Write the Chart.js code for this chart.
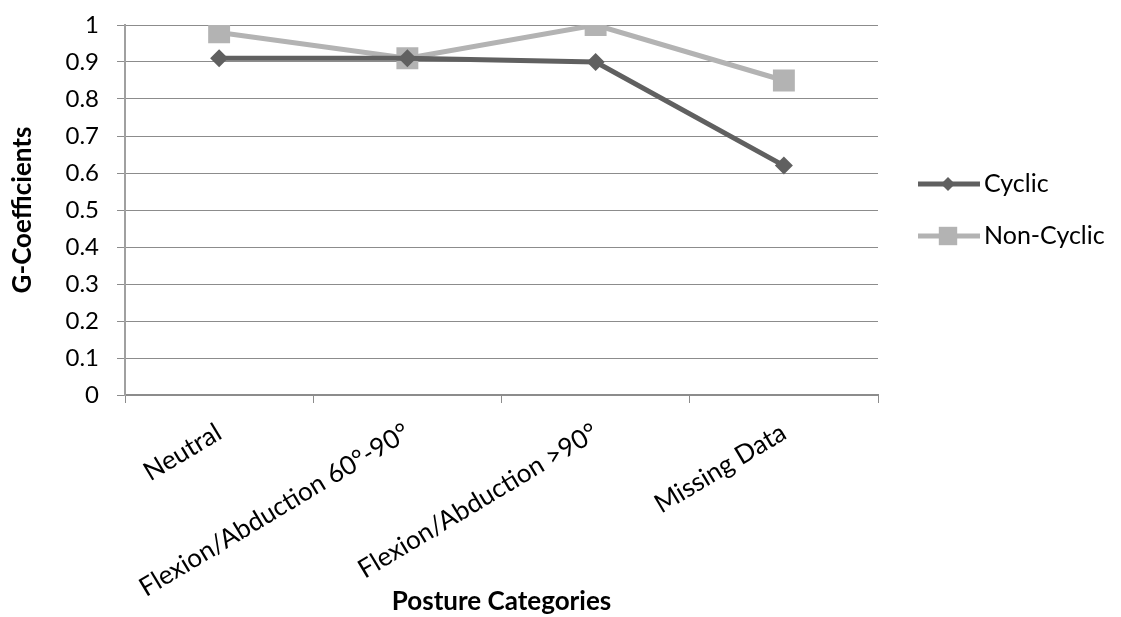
<!DOCTYPE html>
<html>
<head>
<meta charset="utf-8">
<script src="https://cdn.jsdelivr.net/npm/chart.js@4.4.1/dist/chart.umd.min.js"></script>
<style>
  html, body { margin: 0; padding: 0; background: #fff; }
  #wrap { width: 1121px; height: 617px; position: relative; }
</style>
</head>
<body>
<div id="wrap"><canvas id="myChart"></canvas></div>
<script>
const categories = ['Neutral', 'Flexion/Abduction 60°-90°', 'Flexion/Abduction >90°', 'Missing Data'];
const cyclic = [0.91, 0.91, 0.90, 0.62];
const nonCyclic = [0.98, 0.91, 1.0, 0.85];
const seriesNames = ['Cyclic', 'Non-Cyclic'];

const FONT = 'Lato, "Open Sans", sans-serif';

// legend on the right, line + marker like the original
const sideLegend = {
  id: 'sideLegend',
  afterDraw(chart) {
    const ctx = chart.ctx;
    const area = chart.chartArea;
    const x0 = area.right + 40;
    const rows = [184, 236];
    const markR = [7, 13];
    chart.data.datasets.forEach((ds, i) => {
      const y = rows[i];
      const cx = x0 + 30;
      ctx.save();
      ctx.strokeStyle = ds.borderColor;
      ctx.lineWidth = ds.borderWidth;
      ctx.beginPath();
      ctx.moveTo(x0, y);
      ctx.lineTo(x0 + 62, y);
      ctx.stroke();
      ctx.fillStyle = ds.backgroundColor;
      const r = markR[i];
      ctx.beginPath();
      if (ds.pointStyle === 'rect') {
        const s = Math.SQRT1_2 * r;
        ctx.rect(cx - s, y - s, 2 * s, 2 * s);
      } else {
        ctx.moveTo(cx - r, y);
        ctx.lineTo(cx, y - r);
        ctx.lineTo(cx + r, y);
        ctx.lineTo(cx, y + r);
        ctx.closePath();
      }
      ctx.fill();
      ctx.fillStyle = '#000';
      ctx.font = '25px ' + FONT;
      ctx.textBaseline = 'middle';
      ctx.fillText(ds.label, x0 + 66, y);
      ctx.restore();
    });
  }
};

const ctx = document.getElementById('myChart');
new Chart(ctx, {
  type: 'line',
  data: {
    labels: categories,
    datasets: [{
      label: seriesNames[0],
      data: cyclic,
      borderColor: '#606060',
      backgroundColor: '#606060',
      borderWidth: 5,
      pointStyle: 'rectRot',
      pointRadius: 9,
      pointBorderWidth: 0,
      tension: 0
    }, {
      label: seriesNames[1],
      data: nonCyclic,
      borderColor: '#b3b3b3',
      backgroundColor: '#b3b3b3',
      borderWidth: 5,
      pointStyle: 'rect',
      pointRadius: 15.5,
      pointBorderWidth: 0,
      tension: 0
    }]
  },
  options: {
    responsive: true,
    maintainAspectRatio: false,
    animation: false,
    layout: { padding: { left: 0, right: 243, top: 25, bottom: 0 } },
    plugins: {
      legend: { display: false },
      tooltip: { enabled: false }
    },
    scales: {
      x: {
        offset: true,
        afterFit: (s) => { s.height = 222; s.paddingTop = 0; s.paddingLeft = 0; s.paddingRight = 0; },
        grid: {
          offset: true,
          drawOnChartArea: false,
          drawTicks: true,
          tickLength: 8,
          color: '#8c8c8c'
        },
        border: { color: '#8c8c8c', width: 2 },
        ticks: {
          autoSkip: false,
          minRotation: 31,
          maxRotation: 31,
          padding: 14,
          color: '#000',
          font: { family: FONT, size: 26 }
        },
        title: {
          display: true,
          text: 'Posture Categories',
          color: '#000',
          font: { family: FONT, size: 26, weight: 'bold' },
          padding: { top: 0, bottom: 0 }
        }
      },
      y: {
        min: 0,
        max: 1,
        afterFit: (s) => { s.width = 125; s.paddingTop = 0; s.paddingBottom = 0; },
        grid: {
          color: '#8c8c8c',
          tickLength: 8
        },
        border: { color: '#a0a0a0', width: 2 },
        ticks: {
          stepSize: 0.1,
          padding: 18,
          color: '#000',
          font: { family: FONT, size: 24 },
          callback: (v) => String(+v.toFixed(1))
        },
        title: {
          display: true,
          text: 'G-Coefficients',
          color: '#000',
          font: { family: FONT, size: 26, weight: 'bold' },
          padding: { top: 7, bottom: 0 }
        }
      }
    }
  },
  plugins: [sideLegend]
});
</script>
</body>
</html>
